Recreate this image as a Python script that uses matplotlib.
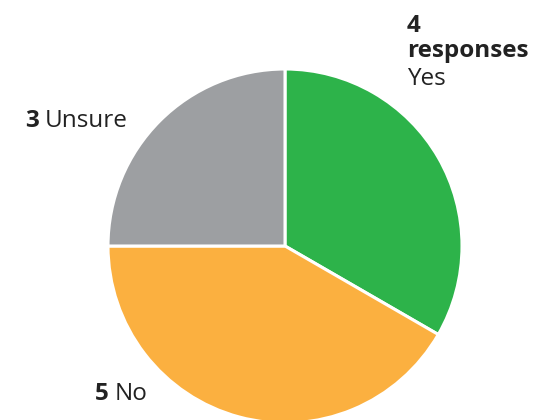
import matplotlib
matplotlib.use("Agg")
import matplotlib.pyplot as plt

# response counts, drawn clockwise from 12 o'clock
labels = ["Yes", "No", "Unsure"]
counts = [4, 5, 3]
colors = ["#2db34a", "#fbb040", "#9d9fa2"]

plt.rcParams["font.family"] = ["Open Sans", "DejaVu Sans"]

fig = plt.figure(figsize=(5.34, 4.2), dpi=100)
ax = fig.add_axes([0, 0, 1, 1])
ax.axis("off")

ax.pie(counts, colors=colors, startangle=90, counterclock=False,
       center=(285, 174), radius=177,
       wedgeprops=dict(edgecolor="white", linewidth=2.2))
ax.set_xlim(0, 534)
ax.set_ylim(0, 420)
ax.set_aspect("equal")

fs = 17.5
col = "#222222"
renderer = fig.canvas.get_renderer()


def count_label(x, y, n, name):
    t = ax.text(x, y, str(n), fontsize=fs, fontweight="bold", color=col)
    bb = t.get_window_extent(renderer=renderer)
    x1 = ax.transData.inverted().transform((bb.x1, bb.y0))[0]
    ax.text(x1 + 6, y, name, fontsize=fs, color=col)


ax.text(407, 420 - 32, str(counts[0]), fontsize=fs, fontweight="bold", color=col)
ax.text(407, 420 - 57, "responses", fontsize=fs, fontweight="bold", color=col)
ax.text(407, 420 - 85, labels[0], fontsize=fs, color=col)
count_label(25, 420 - 127, counts[2], labels[2])
count_label(95, 420 - 400, counts[1], labels[1])

fig.savefig("out.png", dpi=100)
